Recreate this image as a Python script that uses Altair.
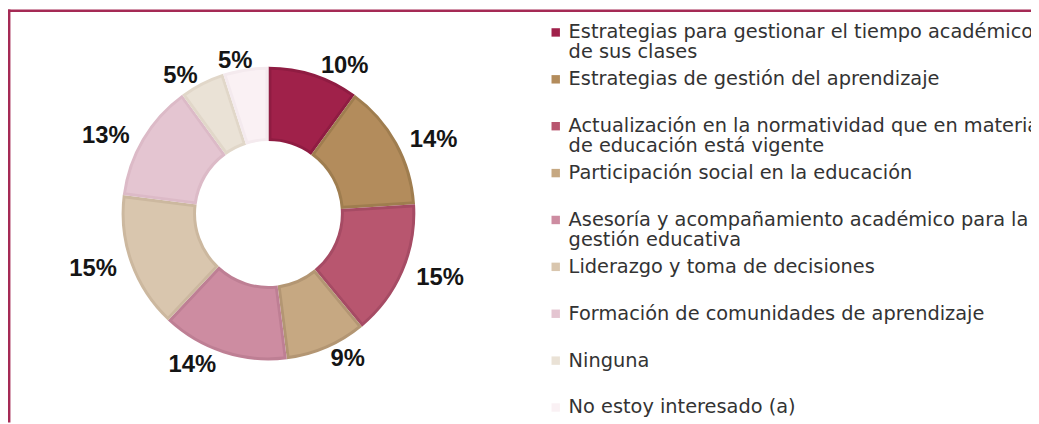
import altair as alt
import pandas as pd

# ---- data ----
legend_lines = [
    ["Estrategias para gestionar el tiempo académico", "de sus clases"],
    ["Estrategias de gestión del aprendizaje"],
    ["Actualización en la normatividad que en materia", "de educación está vigente"],
    ["Participación social en la educación"],
    ["Asesoría y acompañamiento académico para la", "gestión educativa"],
    ["Liderazgo y toma de decisiones"],
    ["Formación de comunidades de aprendizaje"],
    ["Ninguna"],
    ["No estoy interesado (a)"],
]
categories = [" ".join(l) for l in legend_lines]
values = [10, 14, 15, 9, 14, 15, 13, 5, 5]
fills = ["#A0214A", "#B38C5C", "#B8566F", "#C6A882", "#CD8CA1",
         "#D9C6AE", "#E4C5D1", "#EAE2D6", "#FAF1F4"]
edges = ["#8F1C42", "#9F7D4F", "#A64B64", "#B39673", "#BE7F94",
         "#CCB89F", "#DCBAC7", "#E1D7C9", "#F4EAEE"]

df = pd.DataFrame({
    "cat": categories,
    "v": values,
    "idx": list(range(len(values))),
    "fill": fills,
    "edge": edges,
    "lines": legend_lines,
    "pct": [f"{v}%" for v in values],
})

W, H = 1031, 416
CX, CY = 262.5, 205.5

base = alt.Chart(df).encode(
    theta=alt.Theta("v:Q", stack=True),
    order=alt.Order("idx:Q"),
    x=alt.value(CX),
    y=alt.value(CY),
)

outer = base.mark_arc(radius=148, radius2=73).encode(
    fill=alt.Fill("edge:N", scale=None)
)
inner = base.mark_arc(radius=145, radius2=76, padAngle=0.036).encode(
    fill=alt.Fill("fill:N", scale=None)
)

# label anchored outside each slice's mid angle, pushed sideways by its width
labels = (
    alt.Chart(df)
    .transform_joinaggregate(total="sum(v)")
    .transform_window(cum="sum(v)", sort=[alt.SortField("idx")])
    .transform_calculate(
        mid="(datum.cum - datum.v/2)/datum.total*2*PI",
        hw="length(datum.pct) == 3 ? 28 : 17",
    )
    .transform_calculate(
        lx=f"{CX} + 158*sin(datum.mid) + datum.hw*clamp(sin(datum.mid)/0.3, -1, 1)",
        ly=f"{CY} - 158*cos(datum.mid) + 2",
    )
    .mark_text(font="Liberation Sans", fontSize=24, fontWeight="bold", color="#151515")
    .encode(
        x=alt.X("lx:Q", scale=None),
        y=alt.Y("ly:Q", scale=None),
        text="pct:N",
    )
)

yscale = alt.Scale(domain=[0, 8], range=[23, 401])
leg = alt.Chart(df)
squares = leg.mark_square(size=72, opacity=1).encode(
    x=alt.value(552),
    y=alt.Y("idx:Q", scale=yscale, axis=None),
    fill=alt.Fill("fill:N", scale=None),
)
texts = leg.mark_text(
    align="left", baseline="line-top", dy=-10, lineHeight=20,
    font="DejaVu Sans", fontSize=19.5, color="#333333",
).encode(
    x=alt.value(565),
    y=alt.Y("idx:Q", scale=yscale, axis=None),
    text="lines",
)

one = alt.Chart(pd.DataFrame({"a": [0]}))
top_border = one.mark_rule(color="#A52A55", strokeWidth=2.5).encode(
    x=alt.value(0), x2=alt.value(W), y=alt.value(1.2)
)
left_border = one.mark_rule(color="#A52A55", strokeWidth=2.5).encode(
    x=alt.value(1.2), y=alt.value(0), y2=alt.value(H)
)

chart = (
    alt.layer(outer, inner, labels, squares, texts, top_border, left_border)
    .properties(width=W, height=H, autosize=alt.AutoSizeParams(type="none"), padding=0)
    .configure_view(strokeWidth=0)
)

chart.save("out.html", embed_options={"renderer": "svg", "actions": False})
